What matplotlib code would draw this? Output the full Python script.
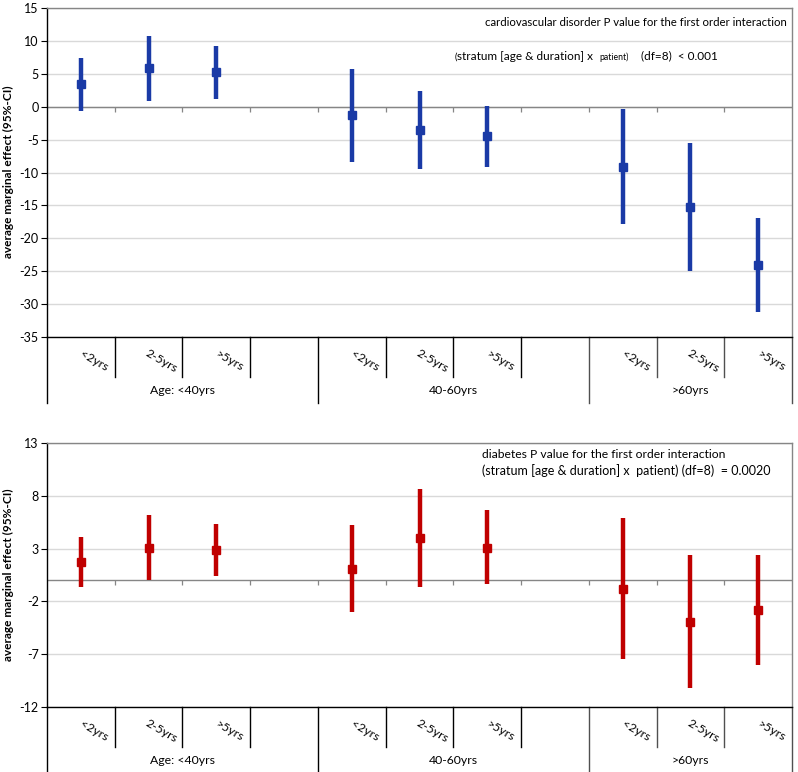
import matplotlib
matplotlib.use("Agg")
import matplotlib.pyplot as plt
import numpy as np

plt.rcParams['font.family'] = ['Lato', 'DejaVu Sans']

# ---------------- data ----------------
age_groups = ['Age: <40yrs', '40-60yrs', '>60yrs']
durations = ['<2yrs', '2-5yrs', '>5yrs']

cv_est = [3.4, 5.9, 5.2, -1.3, -3.5, -4.5, -9.1, -15.3, -24.0]
cv_lo = [-0.7, 0.9, 1.2, -8.4, -9.4, -9.2, -17.8, -25.0, -31.2]
cv_hi = [7.4, 10.8, 9.3, 5.8, 2.4, 0.1, -0.35, -5.5, -16.9]

db_est = [1.7, 3.06, 2.9, 1.1, 4.03, 3.1, -0.8, -3.97, -2.8]
db_lo = [-0.63, 0.0, 0.38, -3.05, -0.63, -0.38, -7.45, -10.2, -8.0]
db_hi = [4.1, 6.15, 5.37, 5.25, 8.65, 6.67, 5.9, 2.35, 2.38]

cv_ticks = [15, 10, 5, 0, -5, -10, -15, -20, -25, -30, -35]
db_ticks = [13, 8, 3, -2, -7, -12]

W, H = 798, 772
fig = plt.figure(figsize=(W / 100, H / 100), dpi=100)

ax1 = fig.add_axes([47 / W, 435 / H, 745 / W, 329 / H])
ax2 = fig.add_axes([47 / W, 65 / H, 745 / W, 264 / H])

# slot layout: 3 durations + 1 empty slot per age group (last group no empty)
n_slots = 11
slots = [g * 4 + d for g in range(len(age_groups)) for d in range(len(durations))]
xpos = np.array(slots) + 0.5

grid_c = '#d9d9d9'
zero_c = '#868686'
frame_c = '#868686'


def style_axis(ax, ticks, est, lo, hi, color, ax_h_px):
    ax.set_xlim(0, n_slots)
    ax.set_ylim(min(ticks), max(ticks))
    ax.set_yticks(ticks)
    ax.set_yticklabels([str(t) for t in ticks], fontsize=9)
    ax.tick_params(axis='y', direction='out', length=4, width=0.8,
                   color='#000000', pad=2)
    ax.set_xticks([])
    for t in ticks:
        ax.axhline(t, color=grid_c, lw=1, zorder=0)
    # zero line with downward ticks at slot boundaries
    ax.axhline(0, color=zero_c, lw=1, zorder=1)
    ax.plot(np.arange(1, n_slots), np.zeros(n_slots - 1), ls='none',
            marker=3, ms=3.5, mew=0.9, color=zero_c, zorder=1)
    for s in ['top', 'right']:
        ax.spines[s].set_color(frame_c)
        ax.spines[s].set_linewidth(1)
    ax.spines['left'].set_color('#000000')
    ax.spines['bottom'].set_color('#000000')
    ax.spines['left'].set_linewidth(1)
    ax.spines['bottom'].set_linewidth(1)

    est = np.array(est)
    lo = np.array(lo)
    hi = np.array(hi)
    ax.errorbar(xpos, est, yerr=[est - lo, hi - est], fmt='s', ms=6.3,
                color=color, ecolor=color, elinewidth=3.2, capsize=0,
                zorder=3)

    # multi-level category axis
    short = 40 / ax_h_px
    long_ = 66 / ax_h_px
    bounds_full = [0, 4, 8, 11]
    for b in range(0, n_slots + 1):
        ln = long_ if b in bounds_full else short
        c = '#000000' if b < 8 else '#505050'
        ax.plot([b, b], [0, -ln], transform=ax.get_xaxis_transform(),
                color=c, lw=1, clip_on=False)
    for i, x in enumerate(xpos):
        ax.annotate(durations[i % 3], xy=(x, 0),
                    xycoords=('data', 'axes fraction'),
                    xytext=(13, -24), textcoords='offset pixels',
                    ha='center', va='center', rotation=-30, fontsize=8.8)
    group_centers = [2, 6, 9.5]
    for g, gc in enumerate(group_centers):
        ax.annotate(age_groups[g], xy=(gc, 0),
                    xycoords=('data', 'axes fraction'),
                    xytext=(0, -54), textcoords='offset pixels',
                    ha='center', va='center', fontsize=8.8)


style_axis(ax1, cv_ticks, cv_est, cv_lo, cv_hi, '#1a3aa6', 329)
style_axis(ax2, db_ticks, db_est, db_lo, db_hi, '#c00000', 264)

# y labels
fig.text(8 / W, 1 - 172 / H, 'average marginal effect (95%-CI)',
         rotation=90, ha='center', va='center', fontsize=8.6,
         fontweight='bold')
fig.text(8 / W, 1 - 575 / H, 'average marginal effect (95%-CI)',
         rotation=90, ha='center', va='center', fontsize=8.6,
         fontweight='bold')

# annotations top
fig.text(485 / W, 1 - 22 / H,
         'cardiovascular disorder P value for the first order interaction',
         ha='left', va='center', fontsize=8.2)
t0 = fig.text(455 / W, 1 - 57 / H, '(', ha='left', va='center', fontsize=6.5)
t1 = ax1.annotate('stratum [age & duration] x', xy=(1, 0), xycoords=t0,
                  xytext=(0, 0), textcoords='offset points',
                  ha='left', va='bottom', fontsize=8.5, annotation_clip=False)
t2 = ax1.annotate('patient)', xy=(1, 0), xycoords=t1,
                  xytext=(4, 0), textcoords='offset points',
                  ha='left', va='bottom', fontsize=6.2, annotation_clip=False)
t3 = ax1.annotate('(df=8)  < 0.001', xy=(1, 0), xycoords=t2,
                  xytext=(9, 0), textcoords='offset points',
                  ha='left', va='bottom', fontsize=8.5, annotation_clip=False)

# annotations bottom
fig.text(482 / W, 1 - 454 / H,
         'diabetes P value for the first order interaction',
         ha='left', va='center', fontsize=8.7)
fig.text(482 / W, 1 - 471 / H,
         '(stratum [age & duration] x  patient) (df=8)  = 0.0020',
         ha='left', va='center', fontsize=9)

fig.savefig('out.png', dpi=100)
